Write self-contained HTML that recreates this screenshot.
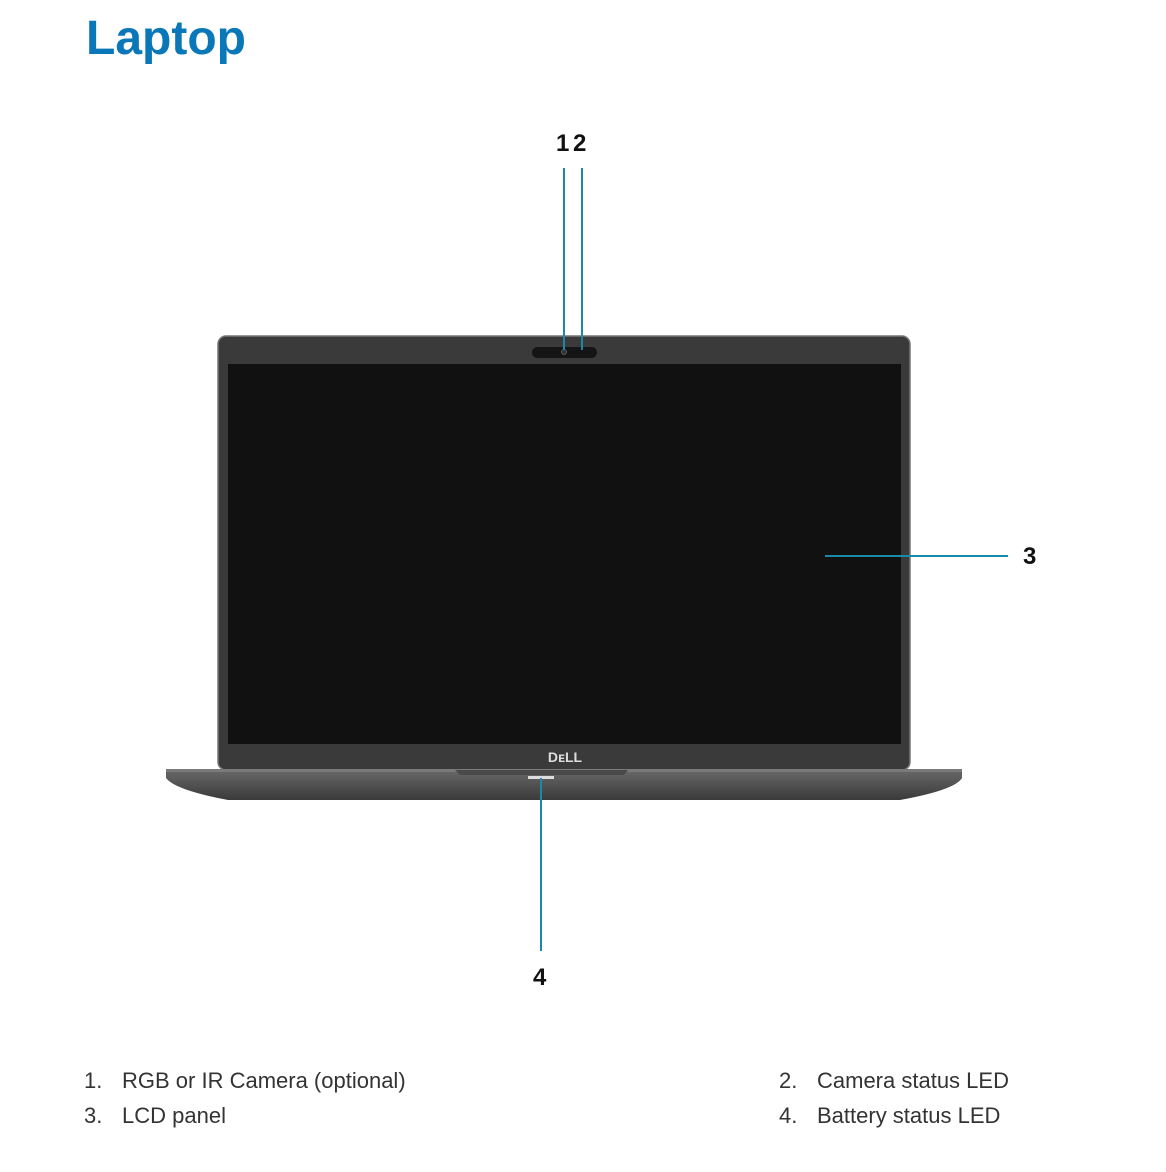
<!DOCTYPE html>
<html><head><style>
body{margin:0;width:1166px;height:1172px;background:#fff;position:relative;overflow:hidden;font-family:"Liberation Sans",sans-serif}
.a{position:absolute}
.t{left:86px;top:11px;font-size:48px;font-weight:bold;color:#0a78b8}
.n{font-weight:bold;font-size:24px;color:#111}
.l{font-size:22px;color:#333}
</style></head><body>
<div class="a t">Laptop</div>
<svg class="a" style="left:0;top:0" width="1166" height="1172">
<defs><linearGradient id="g" x1="0" y1="0" x2="0" y2="1"><stop offset="0" stop-color="#6a6a6a"/><stop offset="1" stop-color="#3a3a3a"/></linearGradient></defs>
<rect x="218" y="336" width="692" height="434" rx="8" fill="#3a3a3a" stroke="#777" stroke-width="1.5"/>
<rect x="228" y="364" width="673" height="380" fill="#111"/>
<rect x="532" y="347" width="65" height="11" rx="5.5" fill="#151515"/>
<circle cx="564" cy="352" r="2.5" fill="#333" stroke="#666" stroke-width="0.8"/>
<path d="M166 769 L962 769 L962 778 Q955 790 900 800 L228 800 Q175 790 166 778 Z" fill="url(#g)"/>
<rect x="166" y="769" width="796" height="3" fill="#7a7a7a"/>
<path d="M455 770 L628 770 L624 775 L460 775 Z" fill="#4a4a4a"/>
<rect x="528" y="776" width="26" height="3" fill="#ddd"/>
<text x="565" y="762" font-family="Liberation Sans" font-weight="bold" font-size="14" fill="#ddd" text-anchor="middle">DᴇLL</text>
<g stroke="#1a88a8" stroke-width="2">
<line x1="564" y1="168" x2="564" y2="350"/>
<line x1="582" y1="168" x2="582" y2="350"/>
<line x1="825" y1="556" x2="1008" y2="556"/>
<line x1="541" y1="778" x2="541" y2="951"/>
</g>
</svg>
<div class="a n" style="left:556px;top:130px">1</div>
<div class="a n" style="left:573px;top:130px">2</div>
<div class="a n" style="left:1023px;top:543px">3</div>
<div class="a n" style="left:533px;top:964px">4</div>
<div class="a l" style="left:84px;top:1068px">1.</div>
<div class="a l" style="left:122px;top:1068px">RGB or IR Camera (optional)</div>
<div class="a l" style="left:84px;top:1103px">3.</div>
<div class="a l" style="left:122px;top:1103px">LCD panel</div>
<div class="a l" style="left:779px;top:1068px">2.</div>
<div class="a l" style="left:817px;top:1068px">Camera status LED</div>
<div class="a l" style="left:779px;top:1103px">4.</div>
<div class="a l" style="left:817px;top:1103px">Battery status LED</div>
</body></html>
